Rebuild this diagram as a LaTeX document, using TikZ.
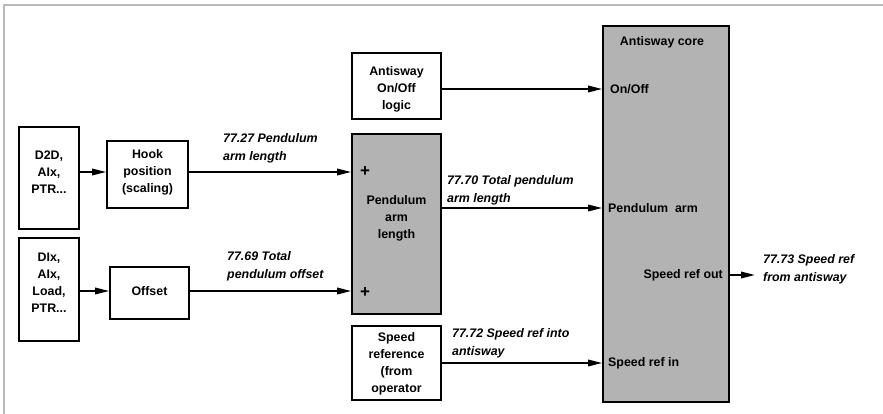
\documentclass[tikz,border=0pt]{standalone}
\usepackage{fontspec}
\setmainfont{Liberation Sans}
\usetikzlibrary{arrows.meta,calc}
\definecolor{coreGray}{RGB}{179,179,179}
\definecolor{frameGray}{RGB}{185,185,185}
\begin{document}
\begin{tikzpicture}[x=1pt,y=-1pt,
 every node/.style={font=\fontsize{12.4}{17}\selectfont\bfseries, inner sep=0pt},
 blk/.style={draw, line width=1.7pt, fill=white},
 gblk/.style={draw, line width=1.7pt, fill=coreGray},
 txt/.style={align=center},
 plussign/.style={font=\fontsize{17}{17}\selectfont\bfseries},
 lbl/.style={font=\fontsize{12.4}{18}\selectfont\bfseries\itshape, align=left, anchor=west},
 arr/.style={line width=1.7pt, -{Triangle[length=14pt,width=6.5pt]}},
 frameline/.style={draw=frameGray, line width=2pt}]
\useasboundingbox (0,0) rectangle (883,414);
\draw[frameline] (4,414) -- (4,5.5) -- (883,5.5);
% boxes
\node[blk, minimum width=60, minimum height=102] (d2d) at (49,178) {};
\node[blk, minimum width=60, minimum height=103] (dix) at (49,289.5) {};
\node[blk, minimum width=81, minimum height=67] (hook) at (147.5,174.5) {};
\node[blk, minimum width=79, minimum height=52] (offset) at (149.5,293) {};
\node[blk, minimum width=89, minimum height=66] (onoff) at (396.5,86) {};
\node[gblk, minimum width=89, minimum height=180] (pend) at (396.5,224) {};
\node[blk, minimum width=89, minimum height=74] (speed) at (396.5,363) {};
\node[gblk, minimum width=126, minimum height=376] (core) at (666,214) {};
% box texts
\node[txt] (d2dtxt) at (49,172) {D2D,\\AIx,\\PTR...};
\node[txt] (dixtxt) at (49,282.5) {DIx,\\AIx,\\Load,\\PTR...};
\node[txt] (hooktxt) at (147.5,172) {Hook\\position\\(scaling)};
\node[txt] (offtxt) at (149.5,291) {Offset};
\node[txt] (onofftxt) at (396.5,89) {Antisway\\On/Off\\logic};
\node[txt] (pendtxt) at (396.5,218) {Pendulum\\arm\\length};
\node[txt] (speedtxt) at (396.5,364) {Speed\\reference\\(from\\operator};
\node[plussign] (plusa) at (365,172) {+};
\node[plussign] (plusb) at (365,293) {+};
\node (coretitle) at (662,42) {Antisway core};
\node[anchor=west] (lblonoff) at (610,89) {On/Off};
\node[anchor=west] (lblpend) at (608,208) {Pendulum\ \ arm};
\node[anchor=east] (lblsout) at (723,275) {Speed ref out};
\node[anchor=west] (lblsin) at (608,363) {Speed ref in};
% connector labels
\node[lbl] (la) at (223,148) {77.27 Pendulum\\arm length};
\node[lbl] (lb) at (227,266.5) {77.69 Total\\pendulum offset};
\node[lbl] (lc) at (447,190) {77.70 Total pendulum\\arm length};
\node[lbl] (ld) at (452,343) {77.72 Speed ref into\\antisway};
\node[lbl] (le) at (763,269) {77.73 Speed ref\\from antisway};
% connectors
\coordinate (outend) at (755,275);
\draw[arr] (d2d.east |- hooktxt) -- (hook.west |- hooktxt);
\draw[arr] (dix.east |- offtxt) -- (offset.west |- offtxt);
\draw[arr] (hook.east |- hooktxt) -- (pend.west |- hooktxt);
\draw[arr] (offset.east |- offtxt) -- (pend.west |- offtxt);
\draw[arr] (onoff.east |- lblonoff) -- (core.west |- lblonoff);
\draw[arr] (pend.east |- lblpend) -- (core.west |- lblpend);
\draw[arr] (speed.east |- lblsin) -- (core.west |- lblsin);
\draw[arr] (core.east |- lblsout) -- (outend);
\end{tikzpicture}
\end{document}
